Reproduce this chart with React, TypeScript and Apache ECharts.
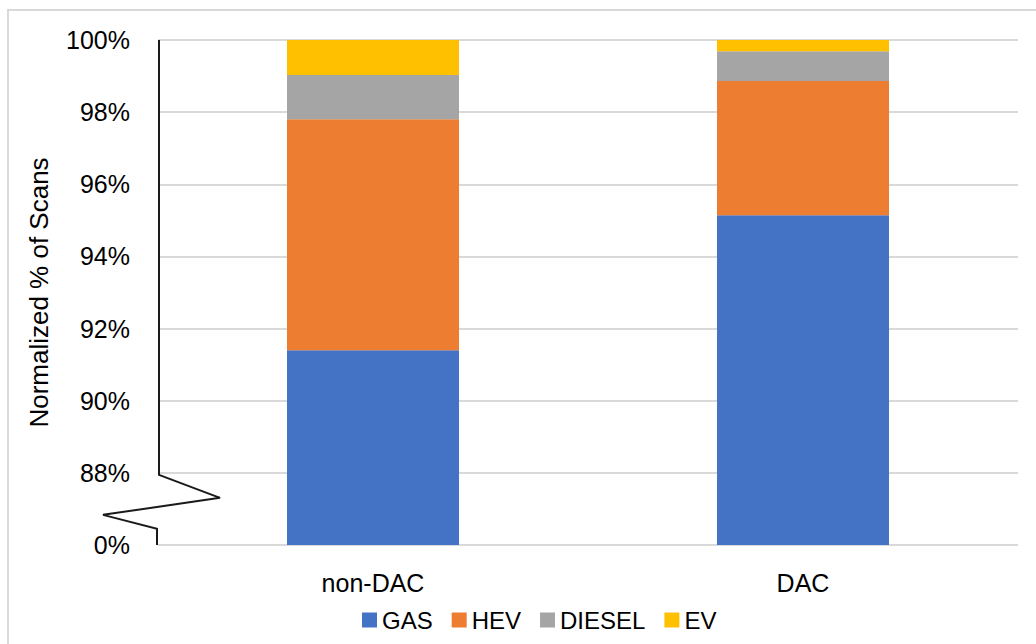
import React, { useEffect, useRef } from "react";
import * as echarts from "echarts";

const categories = ["non-DAC", "DAC"];
const seriesNames = ["GAS", "HEV", "DIESEL", "EV"];
const gasValues = [91.4, 95.14];
const hevValues = [6.4, 3.72];
const dieselValues = [1.23, 0.83];
const evValues = [0.97, 0.31];
const colors = ["#4472C4", "#ED7D31", "#A5A5A5", "#FFC000"];
// axis: break between 0% and 88%; the lowest tick (86) stands for 0%
const axisMin = 86;
const axisMax = 100;
const axisStep = 2;
const breakTop = 88;

const GRID_LEFT = 158;

export default function App() {
  const ref = useRef<HTMLDivElement>(null);
  useEffect(() => {
    if (!ref.current) return;
    const chart = echarts.init(ref.current, undefined, { renderer: "svg" });
    const font = "'Liberation Sans', Arial, sans-serif";
    const values = [gasValues, hevValues, dieselValues, evValues];
    chart.setOption({
      animation: false,
      backgroundColor: "#fff",
      grid: { left: GRID_LEFT, right: 18, top: 40, bottom: 99, containLabel: false },
      legend: {
        bottom: 7,
        left: 357,
        itemWidth: 15,
        itemHeight: 15,
        itemGap: 19,
        icon: "rect",
        data: seriesNames,
        textStyle: { fontFamily: font, fontSize: 24, color: "#000" },
      },
      xAxis: {
        type: "category",
        data: categories,
        axisLine: { show: false },
        axisTick: { show: false },
        axisLabel: { fontFamily: font, fontSize: 25, color: "#000", margin: 25 },
      },
      yAxis: {
        type: "value",
        min: axisMin,
        max: axisMax,
        interval: axisStep,
        name: "Normalized % of Scans",
        nameLocation: "middle",
        nameGap: 106,
        nameTextStyle: { fontFamily: font, fontSize: 26, color: "#000" },
        axisLine: { show: false },
        axisTick: { show: false },
        splitLine: { lineStyle: { color: "#d9d9d9", width: 2 } },
        axisLabel: {
          fontFamily: font,
          fontSize: 25,
          color: "#000",
          margin: 28,
          formatter: (v: number) => (v === axisMin ? "0%" : v + "%"),
        },
      },
      series: seriesNames.map((name, i) => ({
        name,
        type: "bar",
        stack: "total",
        barWidth: "40%",
        clip: true,
        itemStyle: { color: colors[i] },
        data: values[i],
      })),
    });
    const yTop = chart.convertToPixel({ yAxisIndex: 0 }, axisMax) as number;
    const yBreak = chart.convertToPixel({ yAxisIndex: 0 }, breakTop) as number;
    const yBottom = chart.convertToPixel({ yAxisIndex: 0 }, axisMin) as number;
    const x0 = GRID_LEFT + 1;
    chart.setOption({
      graphic: [
        {
          type: "polyline",
          silent: true,
          shape: {
            points: [
              [x0, yTop],
              [x0, yBreak + 2],
              [x0 + 61, yBreak + 25],
              [x0 - 56, yBreak + 42],
              [x0 - 2, yBreak + 56],
              [x0 - 2, yBottom],
            ],
          },
          style: { stroke: "#1a1a1a", lineWidth: 2, fill: "none" },
          z: 100,
        },
        {
          type: "polyline",
          silent: true,
          shape: { points: [[8, 700], [8, 10], [1100, 10]] },
          style: { stroke: "#d9d9d9", lineWidth: 2, fill: "none" },
          z: 100,
        },
      ],
    });
    return () => chart.dispose();
  }, []);
  return (
    <div
      ref={ref}
      style={{ position: "fixed", left: 0, top: 0, width: 1036, height: 644, background: "#fff" }}
    />
  );
}
